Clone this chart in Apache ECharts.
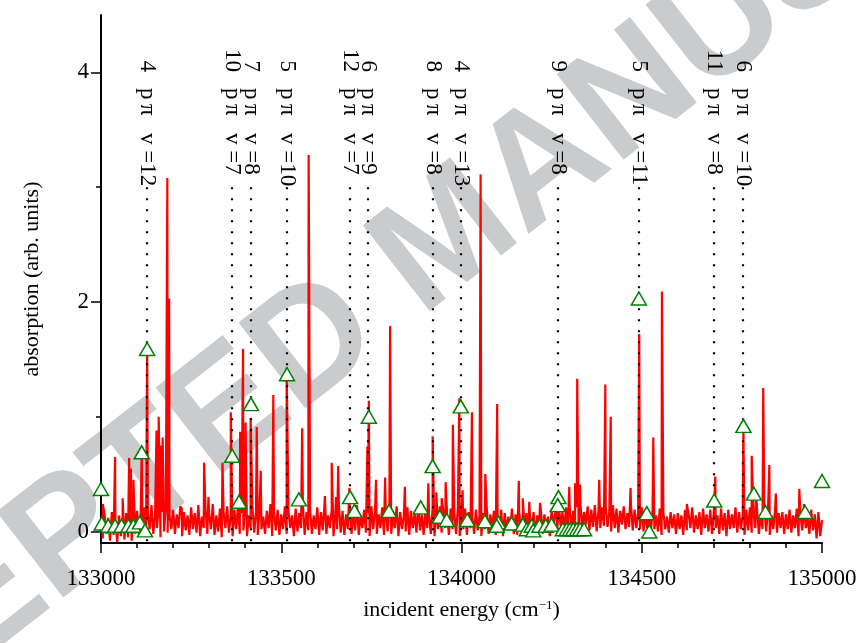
<!DOCTYPE html>
<html>
<head>
<meta charset="utf-8">
<script src="https://cdn.jsdelivr.net/npm/echarts@6/dist/echarts.min.js"></script>
<style>
  html, body { margin: 0; padding: 0; background: #ffffff; }
  #chart { width: 864px; height: 643px; }
</style>
</head>
<body>
<div id="chart"></div>
<script>
// Baseline absorption, sampled every 5 cm^-1 from 133000 to 135000 cm^-1
const baselineStart = 133000;
const baselineStep = 5;
const baseline = [
  0.10,-0.06,0.15,-0.02,0.12,-0.08,0.17,-0.03,0.09,-0.09,0.14,-0.04,0.11,-0.07,0.16,-0.05,0.08,-0.08,0.13,-0.02,
  0.18,-0.03,0.14,0.01,0.21,-0.04,0.16,0.02,0.23,-0.02,0.15,0.03,0.20,-0.05,0.17,0.00,0.24,-0.01,0.14,0.02,
  0.19,-0.02,0.15,0.03,0.22,-0.04,0.17,0.01,0.14,-0.03,0.21,0.02,0.16,-0.01,0.23,-0.04,0.13,0.03,0.19,-0.02,
  0.16,0.02,0.24,-0.03,0.14,0.00,0.20,-0.05,0.17,0.03,0.22,-0.01,0.15,-0.04,0.19,0.02,0.23,-0.02,0.16,0.01,
  0.20,-0.04,0.14,0.03,0.22,-0.01,0.17,-0.03,0.21,0.02,0.13,-0.02,0.18,0.03,0.24,-0.04,0.16,0.01,0.19,-0.03,
  0.15,0.02,0.22,-0.02,0.18,0.03,0.14,-0.04,0.20,0.00,0.16,0.03,0.23,-0.03,0.17,0.01,0.19,-0.02,0.14,0.02,
  0.21,-0.03,0.17,0.01,0.24,-0.02,0.14,0.03,0.19,-0.04,0.16,0.02,0.22,-0.01,0.18,-0.03,0.15,0.02,0.21,-0.02,
  0.17,0.01,0.23,-0.03,0.14,0.03,0.19,-0.01,0.16,-0.04,0.22,0.02,0.18,-0.02,0.15,0.03,0.21,-0.03,0.17,0.00,
  0.19,-0.02,0.15,0.03,0.22,-0.04,0.17,0.02,0.14,0.00,0.21,-0.03,0.18,0.03,0.16,-0.01,0.23,0.01,0.15,-0.03,
  0.18,0.03,0.14,-0.02,0.21,-0.04,0.16,0.02,0.22,-0.01,0.17,0.03,0.15,-0.03,0.20,0.02,0.16,-0.02,0.21,-0.04,
  0.15,0.02,0.20,-0.03,0.17,0.03,0.13,-0.02,0.19,0.01,0.14,-0.04,0.16,0.02,0.21,-0.02,0.15,0.03,0.18,-0.03,
  0.14,0.02,0.19,-0.04,0.16,0.01,0.13,0.03,0.20,-0.02,0.15,-0.03,0.17,0.00,0.14,0.02,0.16,-0.04,0.13,0.01,
  0.17,-0.03,0.14,0.02,0.19,-0.02,0.15,0.03,0.13,-0.04,0.20,0.04,0.16,-0.01,0.22,0.05,0.17,0.01,0.21,0.03,
  0.23,0.02,0.18,0.05,0.21,-0.01,0.24,0.03,0.17,0.06,0.22,0.01,0.19,0.04,0.23,0.00,0.18,0.03,0.21,0.05,
  0.22,0.04,0.17,0.00,0.23,0.03,0.20,-0.01,0.18,0.06,0.22,0.02,0.16,0.04,0.24,0.01,0.19,0.03,0.17,0.02,
  0.21,0.00,0.17,0.03,0.15,-0.02,0.19,0.02,0.14,0.00,0.20,-0.03,0.16,0.02,0.13,-0.01,0.17,0.03,0.15,-0.02,
  0.16,0.02,0.14,-0.03,0.19,0.01,0.15,0.03,0.21,-0.01,0.14,0.02,0.17,-0.03,0.20,0.03,0.15,0.00,0.19,-0.02,
  0.17,0.03,0.14,-0.02,0.20,0.01,0.16,-0.04,0.19,0.02,0.15,0.03,0.21,-0.01,0.17,0.02,0.14,-0.03,0.19,0.01,
  0.21,-0.01,0.16,0.03,0.18,-0.02,0.15,0.02,0.22,0.00,0.17,-0.03,0.14,0.02,0.20,-0.01,0.16,0.03,0.17,-0.02,
  0.15,0.02,0.19,-0.01,0.14,0.03,0.20,-0.04,0.16,0.01,0.17,0.03,0.13,-0.02,0.19,0.01,0.15,-0.06,0.17,-0.04,
  0.10
];

// Sharp absorption lines: [energy (cm^-1), peak absorption]
const peaks = [
  [133005, 0.24], [133039, 0.65], [133060, 0.29], [133078, 0.64], [133083, 0.55],
  [133090, 0.45], [133113, 0.71], [133128, 1.58], [133154, 0.88], [133160, 1.00],
  [133165, 0.75], [133171, 0.82], [133184, 3.08], [133189, 2.03], [133224, 0.20],
  [133286, 0.60], [133298, 0.30], [133337, 0.60], [133360, 1.04], [133386, 0.87],
  [133394, 1.59], [133401, 0.95], [133415, 0.99], [133432, 0.91], [133443, 0.53],
  [133478, 1.19], [133515, 1.43], [133558, 0.90], [133576, 3.28], [133621, 0.31],
  [133640, 0.60], [133652, 0.30], [133658, 0.57], [133689, 0.38], [133739, 0.74],
  [133743, 1.14], [133763, 0.45], [133788, 0.47], [133802, 1.79], [133843, 0.39],
  [133908, 0.42], [133920, 0.83], [133930, 0.34], [133945, 0.29], [133956, 0.43],
  [133976, 0.93], [133994, 1.16], [134003, 0.36], [134029, 1.04], [134053, 3.11],
  [134066, 0.50], [134099, 1.11], [134159, 0.44], [134170, 0.29], [134188, 0.26],
  [134218, 0.25], [134264, 0.25], [134299, 0.39], [134315, 0.42], [134321, 1.33],
  [134329, 0.41], [134382, 0.45], [134399, 1.28], [134414, 1.00], [134469, 0.38],
  [134493, 1.72], [134532, 0.82], [134556, 2.09], [134625, 0.24], [134704, 0.48],
  [134782, 0.90], [134805, 0.66], [134817, 0.33], [134837, 1.25], [134854, 0.58],
  [134872, 0.33], [134937, 0.37], [134950, 0.24]
];

// Assigned band positions (open triangles): [energy (cm^-1), absorption]
const assigned = [
  [133000, 0.37], [133002, 0.07], [133020, 0.05], [133039, 0.05], [133057, 0.05],
  [133076, 0.05], [133090, 0.05], [133108, 0.08], [133122, 0.01], [133113, 0.69],
  [133128, 1.59], [133364, 0.66], [133383, 0.26], [133416, 1.11], [133516, 1.37],
  [133549, 0.28], [133691, 0.30], [133703, 0.18], [133743, 1.00], [133799, 0.18],
  [133887, 0.21], [133920, 0.57], [133940, 0.13], [133959, 0.10], [133998, 1.09],
  [134016, 0.10], [134065, 0.09], [134102, 0.08], [134098, 0.05], [134139, 0.07],
  [134170, 0.06], [134181, 0.02], [134195, 0.05], [134199, 0.01], [134216, 0.05],
  [134234, 0.05], [134250, 0.06], [134269, 0.30], [134267, 0.23], [134281, 0.02],
  [134292, 0.02], [134301, 0.02], [134310, 0.02], [134320, 0.02], [134329, 0.02],
  [134340, 0.02], [134492, 2.03], [134514, 0.16], [134521, 0.00], [134701, 0.27],
  [134782, 0.92], [134811, 0.33], [134843, 0.17], [134953, 0.17], [135000, 0.44]
];

// Rydberg assignments n p-pi, v: positions of the marker lines
const seriesEnergy = [133127, 133364, 133415, 133515, 133690, 133742, 133920, 133998, 134268, 134492, 134701, 134782];
const seriesN      = ['4', '10', '7', '5', '12', '6', '8', '4', '9', '5', '11', '6'];
const seriesV      = ['12', '7', '8', '10', '7', '9', '8', '13', '8', '11', '8', '10'];

// Axis ranges and tick values
const xMin = 133000, xMax = 135000, xStep = 500;
const yMin = -0.1, yMax = 4.5;
const yMajorTicks = [0, 2, 4];
const yMinorTicks = [1, 3];
const markerLineTop = 3.0;

const FONT = 'Liberation Serif';

const spectrum = baseline.map((v, i) => [baselineStart + i * baselineStep, v])
  .concat(peaks)
  .sort((a, b) => a[0] - b[0]);

const chart = echarts.init(document.getElementById('chart'), null, { renderer: 'canvas' });

chart.setOption({
  animation: false,
  backgroundColor: '#ffffff',
  grid: { left: 101, right: 42, top: 15, bottom: 100, containLabel: false },
  graphic: [{
    type: 'text',
    z: -10,
    x: 450,
    y: 240,
    rotation: 38 * Math.PI / 180,
    style: {
      text: 'ACCEPTED MANUSCRIPT',
      font: 'bold 158px "Liberation Sans"',
      fill: '#cacbcd',
      align: 'center',
      verticalAlign: 'middle'
    }
  }],
  xAxis: {
    type: 'value',
    min: xMin,
    max: xMax,
    interval: xStep,
    name: 'incident energy (cm{sup|−1})',
    nameLocation: 'middle',
    nameGap: 56,
    nameTextStyle: {
      fontFamily: FONT, fontSize: 22, color: '#000',
      rich: { sup: { fontFamily: FONT, fontSize: 13, color: '#000', verticalAlign: 'top', lineHeight: 22 } }
    },
    axisLine: { show: true, onZero: false, lineStyle: { color: '#000', width: 2 } },
    axisTick: { show: true, inside: false, length: 10, lineStyle: { color: '#000', width: 1.5 } },
    minorTick: { show: true, splitNumber: 5, length: 5, lineStyle: { color: '#000', width: 1.5 } },
    axisLabel: { fontFamily: FONT, fontSize: 23, color: '#000', margin: 24, formatter: v => String(v) },
    splitLine: { show: false },
    minorSplitLine: { show: false }
  },
  yAxis: [{
    type: 'value',
    min: yMin,
    max: yMax,
    name: 'absorption (arb. units)',
    nameLocation: 'middle',
    nameGap: 58,
    nameRotate: 90,
    nameTextStyle: { fontFamily: FONT, fontSize: 22, color: '#000' },
    axisLine: { show: true, onZero: false, lineStyle: { color: '#000', width: 2 } },
    axisTick: { show: true, inside: false, length: 10, customValues: yMajorTicks, lineStyle: { color: '#000', width: 1.5 } },
    axisLabel: { fontFamily: FONT, fontSize: 23, color: '#000', margin: 12, customValues: yMajorTicks },
    splitLine: { show: false }
  }, {
    type: 'value',
    min: yMin,
    max: yMax,
    position: 'left',
    axisLine: { show: false },
    axisTick: { show: true, inside: false, length: 5, customValues: yMinorTicks, lineStyle: { color: '#000', width: 1.5 } },
    axisLabel: { show: false },
    splitLine: { show: false }
  }],
  series: [{
    name: 'spectrum',
    type: 'line',
    data: spectrum,
    showSymbol: false,
    symbol: 'none',
    sampling: 'none',
    clip: true,
    z: 2,
    lineStyle: { color: '#ff0000', width: 2.2 }
  }, {
    name: 'assignments',
    type: 'custom',
    z: 3,
    clip: false,
    data: seriesEnergy.map((e, i) => [e, i]),
    renderItem: function (params, api) {
      const i = params.dataIndex;
      const e = api.value(0);
      const top = api.coord([e, markerLineTop]);
      const bottom = api.coord([e, yMin]);
      const gridTop = params.coordSys.y;
      const x = Math.round(top[0]);
      const font = '23px "' + FONT + '"';
      const rot = -Math.PI / 2;
      return {
        type: 'group',
        children: [{
          type: 'line',
          shape: { x1: x, y1: top[1], x2: x, y2: bottom[1] },
          style: { stroke: '#000', lineWidth: 2.2, lineDash: [2, 9] }
        }, {
          type: 'text', x: x, y: gridTop + 57, rotation: rot,
          style: { text: seriesN[i], font: font, fill: '#000', align: 'right', verticalAlign: 'middle' }
        }, {
          type: 'text', x: x, y: gridTop + 73, rotation: rot,
          style: { text: 'p\u2009π', font: font, fill: '#000', align: 'left', verticalAlign: 'middle' }
        }, {
          type: 'text', x: x, y: gridTop + 118, rotation: rot,
          style: { text: 'v =' + seriesV[i], font: font, fill: '#000', align: 'left', verticalAlign: 'middle' }
        }]
      };
    }
  }, {
    name: 'assigned',
    type: 'scatter',
    data: assigned,
    symbol: 'triangle',
    symbolSize: [15, 13],
    z: 4,
    itemStyle: { color: '#ffffff', borderColor: '#008000', borderWidth: 1.5, opacity: 1 }
  }]
});
</script>
</body>
</html>
